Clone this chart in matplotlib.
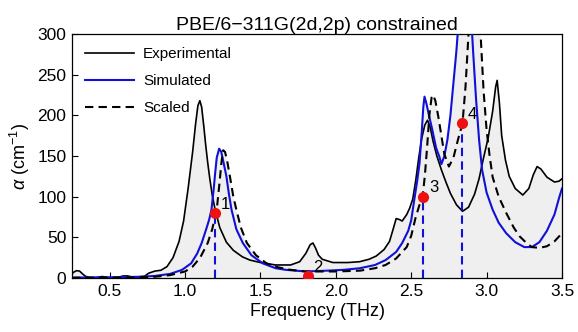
import matplotlib
matplotlib.use("Agg")
import matplotlib.pyplot as plt
from matplotlib.ticker import MultipleLocator

plt.rcParams['font.family'] = ['Liberation Sans', 'DejaVu Sans']
plt.rcParams['mathtext.fontset'] = 'custom'
plt.rcParams['mathtext.rm'] = 'Liberation Sans'
plt.rcParams['mathtext.it'] = 'Liberation Sans:italic'

# Experimental spectrum
exp_x = [0.25, 0.26, 0.28, 0.30, 0.32, 0.34, 0.37, 0.41, 0.45, 0.49, 0.55, 0.59, 0.62, 0.66,
         0.70, 0.73, 0.76, 0.80, 0.84, 0.88, 0.92, 0.96, 0.99, 1.02, 1.05, 1.07, 1.085, 1.098,
         1.11, 1.125, 1.137, 1.15, 1.164, 1.18, 1.197, 1.23, 1.274, 1.32, 1.38, 1.43, 1.50,
         1.60, 1.70, 1.76, 1.80, 1.83, 1.848, 1.865, 1.885, 1.91, 1.98, 2.08, 2.157, 2.22,
         2.268, 2.32, 2.356, 2.38, 2.40, 2.42, 2.44, 2.47, 2.49, 2.51, 2.53, 2.55, 2.57, 2.59,
         2.608, 2.625, 2.645, 2.67, 2.70, 2.73, 2.76, 2.80, 2.84, 2.88, 2.92, 2.95, 2.98, 3.01,
         3.04, 3.06, 3.07, 3.085, 3.10, 3.125, 3.15, 3.19, 3.24, 3.28, 3.31, 3.335, 3.36, 3.40,
         3.45, 3.48, 3.50]
exp_y = [5, 7, 9, 8.5, 5, 2, 0.5, 0.5, 1.8, 0.5, 0.5, 2.5, 2.5, 0.5,
         1.5, 2, 6, 8.5, 9.5, 14, 25, 45, 70, 110, 155, 190, 212, 218,
         210, 185, 163, 142, 122, 102, 86, 62, 44, 34, 26, 22, 19,
         16, 16, 20, 30, 41, 43, 37, 28, 23, 19, 19, 20, 23,
         27, 35, 45, 60, 73, 72, 70, 78, 86, 97, 120, 148, 172, 188,
         194, 186, 168, 150, 133, 118, 104, 90, 82, 87, 103, 122, 148, 172,
         205, 235, 243, 215, 175, 145, 125, 110, 102, 110, 127, 137, 134, 124,
         118, 119, 122]

# Simulated spectrum
sim_x = [0.25, 0.50, 0.70, 0.80, 0.90, 0.98, 1.04, 1.08, 1.11, 1.14, 1.16, 1.175, 1.19, 1.20,
         1.21, 1.226, 1.24, 1.255, 1.274, 1.29, 1.308, 1.34, 1.383, 1.44, 1.515, 1.60, 1.67,
         1.80, 1.94, 2.05, 2.16, 2.26, 2.33, 2.40, 2.44, 2.48, 2.50, 2.52, 2.54, 2.555, 2.57,
         2.58, 2.588, 2.60, 2.62, 2.64, 2.665, 2.687, 2.70, 2.72, 2.74, 2.76, 2.78, 2.80, 2.82,
         2.85, 2.88, 2.91, 2.93, 2.95, 2.97, 3.00, 3.04, 3.08, 3.13, 3.19, 3.25, 3.30, 3.35,
         3.40, 3.45, 3.48, 3.50]
sim_y = [0.5, 0.8, 1.5, 2.5, 5, 10, 18, 30, 43, 60, 72, 84, 110, 130,
         148, 159, 155, 142, 125, 104, 84, 60, 43, 28, 18, 12, 10,
         8, 9, 10, 12, 16, 22, 32, 43, 58, 71, 96, 120, 141, 180,
         210, 223, 215, 198, 182, 160, 149, 140, 150, 170, 200, 240, 280, 330,
         420, 380, 280, 220, 170, 133, 105, 84, 68, 55, 44, 38, 38, 44,
         58, 78, 98, 110]

# Scaled spectrum
scl_x = [0.25, 0.60, 0.80, 0.90, 1.00, 1.05, 1.10, 1.15, 1.18, 1.21, 1.23, 1.24, 1.252, 1.265,
         1.28, 1.30, 1.32, 1.34, 1.37, 1.41, 1.47, 1.54, 1.62, 1.70, 1.80, 2.00, 2.16, 2.26,
         2.33, 2.40, 2.47, 2.50, 2.53, 2.555, 2.575, 2.59, 2.605, 2.62, 2.635, 2.645, 2.66,
         2.68, 2.70, 2.72, 2.75, 2.78, 2.81, 2.84, 2.86, 2.88, 2.90, 2.92, 2.94, 2.96, 2.98,
         3.00, 3.02, 3.04, 3.08, 3.13, 3.18, 3.22, 3.27, 3.30, 3.35, 3.40, 3.45, 3.50]
scl_y = [0.3, 0.5, 1.5, 3.5, 8, 14, 25, 43, 60, 84, 120, 140, 157, 155,
         143, 122, 100, 84, 62, 43, 28, 18, 13, 10, 8, 8, 9, 12,
         16, 24, 38, 52, 75, 90, 100, 125, 160, 200, 222, 225, 218,
         198, 175, 152, 137, 148, 170, 190, 235, 300, 370, 420, 380, 300, 230,
         182, 150, 124, 100, 80, 62, 51, 42, 38, 37, 39, 45, 55]

# Marked modes
mode_x = [1.2, 1.815, 2.58, 2.84]
mode_y = [80, 2, 100, 190]
mode_labels = ["1", "2", "3", "4"]

fig = plt.figure(figsize=(5.78, 3.32), dpi=100)
ax = fig.add_axes([0.1246, 0.1627, 0.8477, 0.7349])

fill_c = '#efefef'
for xs, ys in [(exp_x, exp_y), (sim_x, sim_y), (scl_x, scl_y)]:
    ax.fill_between(xs, ys, 0, color=fill_c, lw=0, zorder=1)

blue = '#1010d8'
ax.plot(exp_x, exp_y, color='black', lw=1.2, label='Experimental', zorder=3)
ax.plot(sim_x, sim_y, color=blue, lw=1.5, label='Simulated', zorder=4)
ax.plot(scl_x, scl_y, color='black', lw=1.5, ls=(0, (4, 2.5)), label='Scaled', zorder=5)

for mx, my in zip(mode_x, mode_y):
    ax.plot([mx, mx], [0, my], color=blue, lw=1.5, ls=(0, (4, 2.5)), zorder=6)
ax.plot(mode_x, mode_y, 'o', color='#ee1111', ms=7, zorder=7)
for mx, my, lab in zip(mode_x, mode_y, mode_labels):
    ax.annotate(lab, (mx, my), xytext=(4, 1), textcoords='offset points',
                fontsize=12, ha='left', va='bottom', zorder=8)

ax.set_xlim(0.25, 3.5)
ax.set_ylim(0, 300)
ax.yaxis.set_major_locator(MultipleLocator(50))
ax.set_xticks([0.5, 1.0, 1.5, 2.0, 2.5, 3.0, 3.5])
ax.set_xticklabels(['0.5', '1.0', '1.5', '2.0', '2.5', '3.0', '3.5'])
ax.tick_params(direction='in', length=4, width=0.8, labelsize=12.5, pad=4)
for s in ax.spines.values():
    s.set_linewidth(0.9)

ax.set_xlabel('Frequency (THz)', fontsize=13, labelpad=3)
ax.set_ylabel(r'$\alpha$ (cm$^{-1}$)', fontsize=13, labelpad=4)
ax.set_title('PBE/6\u2212311G(2d,2p) constrained', fontsize=14, pad=2)

leg = ax.legend(loc='upper left', frameon=False, fontsize=11, handlelength=3.2,
                labelspacing=0.85, borderaxespad=0.45, handletextpad=0.6)

fig.savefig('out.png', dpi=100)
